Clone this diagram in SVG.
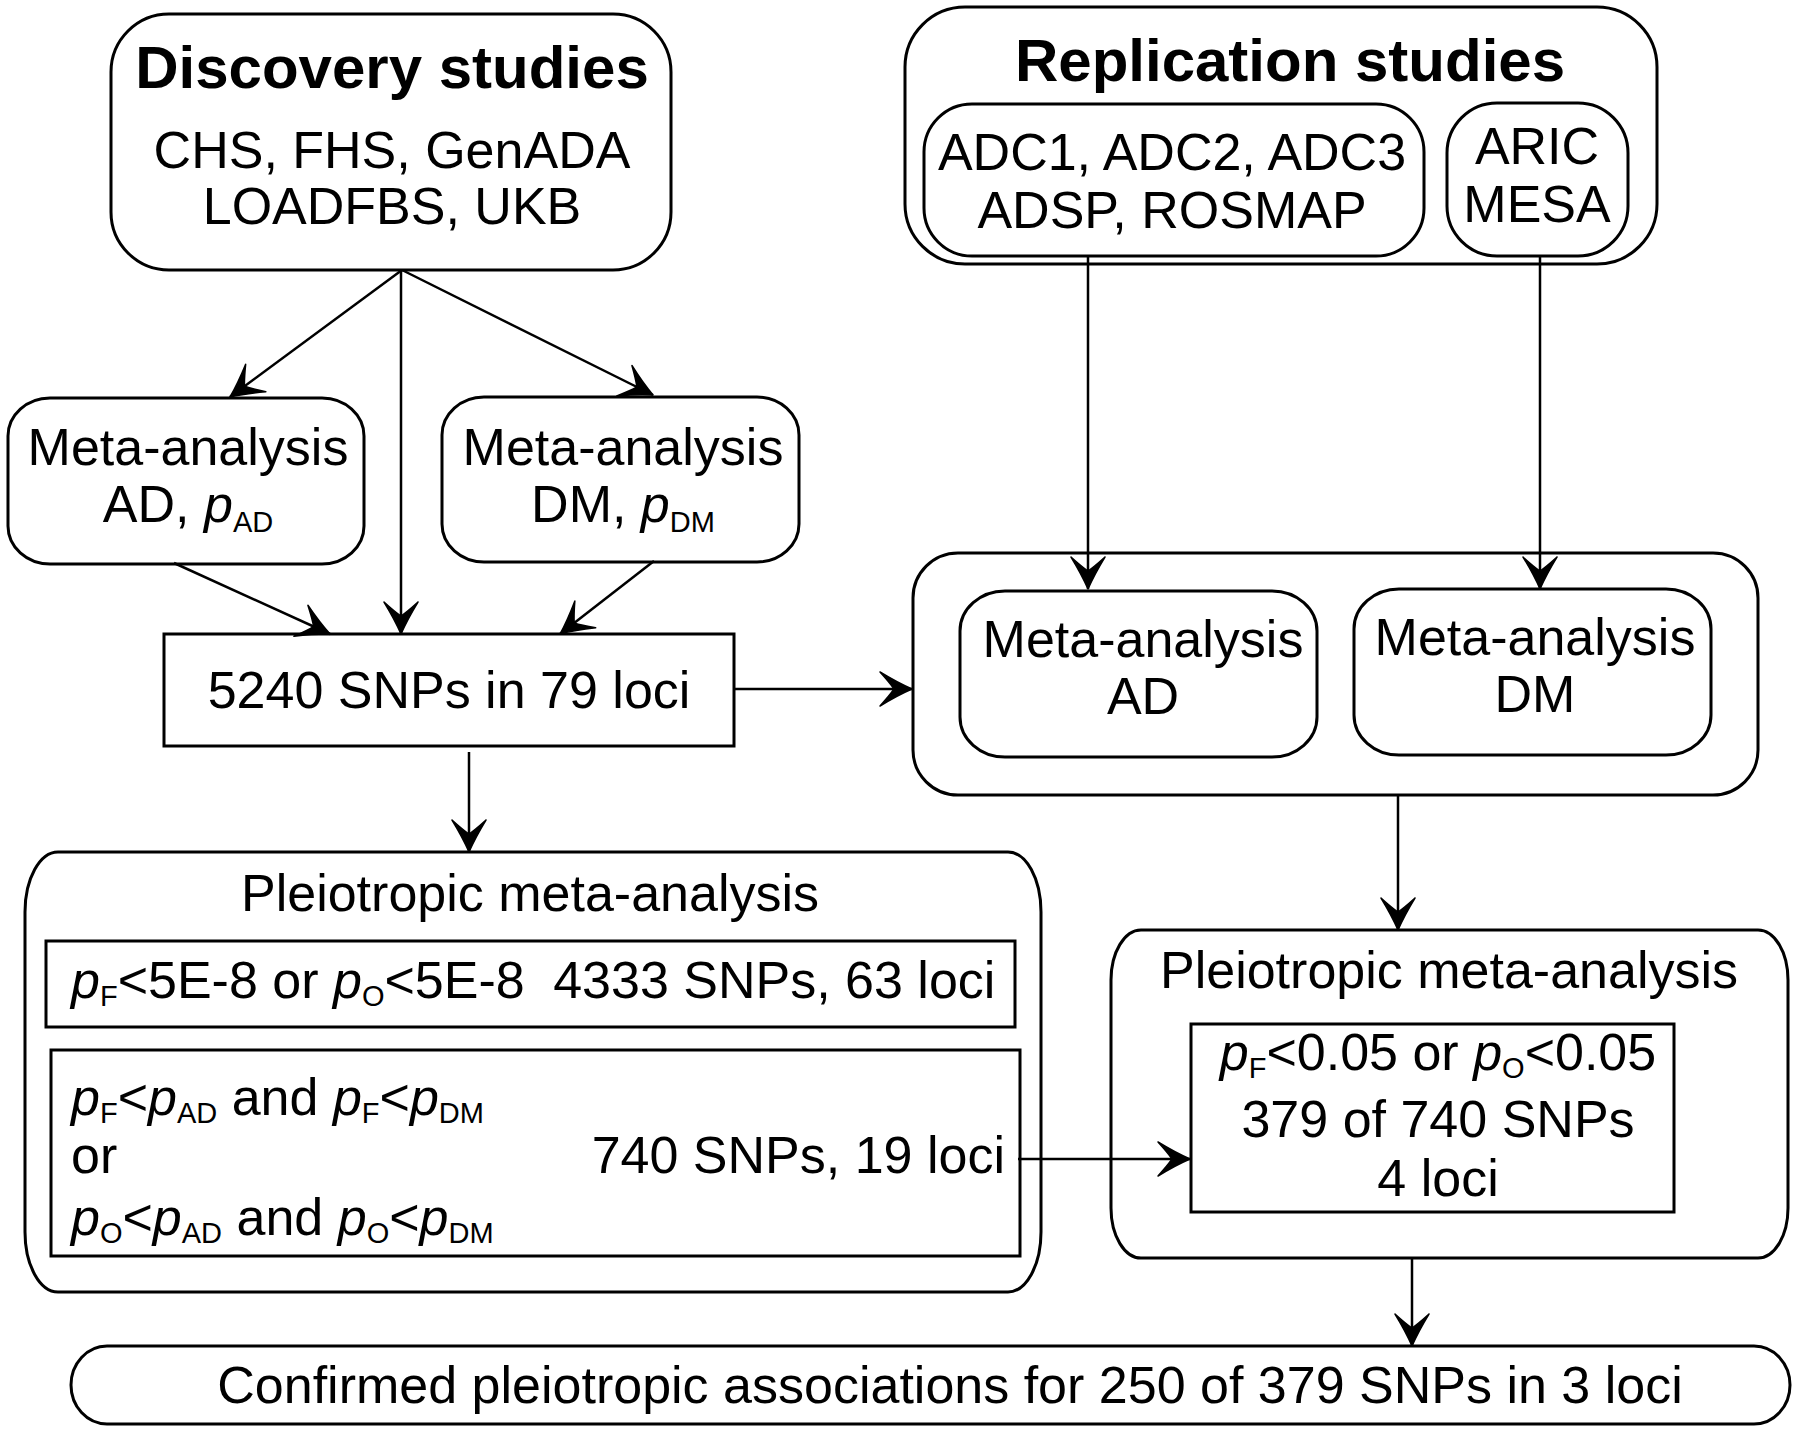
<svg xmlns="http://www.w3.org/2000/svg" width="1800" height="1429" viewBox="0 0 1800 1429">
<style>
.box{fill:#fff;stroke:#000;stroke-width:3}
.ln{fill:none;stroke:#000;stroke-width:2.5;marker-end:url(#ah)}
text{font-family:"Liberation Sans",Arial,sans-serif;font-size:52px;fill:#000}
.b{font-weight:bold;font-size:60px}
.m{text-anchor:middle}
.e{text-anchor:end}
.i{font-style:italic}
.s{font-size:29px}
</style>
<defs>
<marker id="ah" viewBox="-40 -20 40 40" refX="0" refY="0" markerWidth="40" markerHeight="40" markerUnits="userSpaceOnUse" orient="auto" overflow="visible">
<path d="M0,0 Q-14,-6 -32,-17 Q-22,-6 -18,0 Q-22,6 -32,17 Q-14,6 0,0 Z" fill="#000" stroke="#000" stroke-width="1.5" stroke-linejoin="round"/>
</marker>
</defs>
<rect width="1800" height="1429" fill="#fff"/>

<g id="discovery">
<rect class="box" x="111" y="14" width="560" height="256" rx="58" ry="58"/>
<text class="b m" x="392" y="88">Discovery studies</text>
<text class="m" x="392" y="168">CHS, FHS, GenADA</text>
<text class="m" x="392" y="224">LOADFBS, UKB</text>
</g>

<g id="replication">
<rect class="box" x="905" y="7" width="752" height="257" rx="60" ry="60"/>
<text class="b m" x="1290" y="81">Replication studies</text>
</g>
<g id="rep-ad">
<rect class="box" x="924" y="104" width="500" height="152" rx="48" ry="48"/>
<text class="m" x="1172" y="170">ADC1, ADC2, ADC3</text>
<text class="m" x="1172" y="228">ADSP, ROSMAP</text>
</g>
<g id="rep-dm">
<rect class="box" x="1447" y="103" width="181" height="153" rx="50" ry="50"/>
<text class="m" x="1537" y="164">ARIC</text>
<text class="m" x="1537" y="222">MESA</text>
</g>

<g id="meta-ad-disc">
<rect class="box" x="8" y="398" width="356" height="166" rx="42" ry="38"/>
<text class="m" x="188" y="465">Meta-analysis</text>
<text class="m" x="188" y="522">AD, <tspan class="i">p</tspan><tspan class="s" dy="10">AD</tspan></text>
</g>
<g id="meta-dm-disc">
<rect class="box" x="442" y="397" width="357" height="165" rx="42" ry="38"/>
<text class="m" x="623" y="465">Meta-analysis</text>
<text class="m" x="623" y="522">DM, <tspan class="i">p</tspan><tspan class="s" dy="10">DM</tspan></text>
</g>

<g id="snps5240">
<rect class="box" x="164" y="634" width="570" height="112"/>
<text class="m" x="449" y="708">5240 SNPs in 79 loci</text>
</g>

<g id="meta-rep">
<rect class="box" x="913" y="553" width="845" height="242" rx="45" ry="45"/>
</g>
<g id="meta-ad-rep">
<rect class="box" x="960" y="591" width="357" height="166" rx="45" ry="40"/>
<text class="m" x="1143" y="657">Meta-analysis</text>
<text class="m" x="1143" y="714">AD</text>
</g>
<g id="meta-dm-rep">
<rect class="box" x="1354" y="589" width="357" height="166" rx="45" ry="40"/>
<text class="m" x="1535" y="655">Meta-analysis</text>
<text class="m" x="1535" y="712">DM</text>
</g>

<g id="pleio-disc">
<rect class="box" x="25" y="852" width="1016" height="440" rx="33" ry="60"/>
<text class="m" x="530" y="911">Pleiotropic meta-analysis</text>
</g>
<g id="pleio-disc-gw">
<rect class="box" x="46" y="941" width="969" height="86"/>
<text x="71" y="998"><tspan class="i">p</tspan><tspan class="s" dy="8">F</tspan><tspan dy="-8">&lt;5E-8 or </tspan><tspan class="i">p</tspan><tspan class="s" dy="8">O</tspan><tspan dy="-8">&lt;5E-8</tspan><tspan dx="14"> 4333 SNPs, 63 loci</tspan></text>
</g>
<g id="pleio-disc-cond">
<rect class="box" x="51" y="1050" width="969" height="206"/>
<text x="71" y="1115"><tspan class="i">p</tspan><tspan class="s" dy="8">F</tspan><tspan dy="-8">&lt;</tspan><tspan class="i">p</tspan><tspan class="s" dy="8">AD</tspan><tspan dy="-8"> and </tspan><tspan class="i">p</tspan><tspan class="s" dy="8">F</tspan><tspan dy="-8">&lt;</tspan><tspan class="i">p</tspan><tspan class="s" dy="8">DM</tspan></text>
<text x="71" y="1173">or</text>
<text x="71" y="1235"><tspan class="i">p</tspan><tspan class="s" dy="8">O</tspan><tspan dy="-8">&lt;</tspan><tspan class="i">p</tspan><tspan class="s" dy="8">AD</tspan><tspan dy="-8"> and </tspan><tspan class="i">p</tspan><tspan class="s" dy="8">O</tspan><tspan dy="-8">&lt;</tspan><tspan class="i">p</tspan><tspan class="s" dy="8">DM</tspan></text>
<text class="e" x="1005" y="1173">740 SNPs, 19 loci</text>
</g>

<g id="pleio-rep">
<rect class="box" x="1111" y="930" width="677" height="328" rx="30" ry="50"/>
<text class="m" x="1449" y="988">Pleiotropic meta-analysis</text>
</g>
<g id="pleio-rep-res">
<rect class="box" x="1191" y="1024" width="483" height="188"/>
<text class="m" x="1438" y="1070"><tspan class="i">p</tspan><tspan class="s" dy="8">F</tspan><tspan dy="-8">&lt;0.05 or </tspan><tspan class="i">p</tspan><tspan class="s" dy="8">O</tspan><tspan dy="-8">&lt;0.05</tspan></text>
<text class="m" x="1438" y="1137">379 of 740 SNPs</text>
<text class="m" x="1438" y="1196">4 loci</text>
</g>

<g id="confirmed">
<rect class="box" x="71" y="1346" width="1719" height="78" rx="36" ry="39"/>
<text class="m" x="950" y="1403">Confirmed pleiotropic associations for 250 of 379 SNPs in 3 loci</text>
</g>

<g id="connectors">
<line class="ln" x1="402" y1="270" x2="230" y2="397"/>
<line class="ln" x1="402" y1="270" x2="653" y2="395"/>
<line class="ln" x1="401" y1="270" x2="401" y2="634"/>
<line class="ln" x1="174" y1="563" x2="330" y2="634"/>
<line class="ln" x1="654" y1="561" x2="560" y2="634"/>
<line class="ln" x1="1088" y1="256" x2="1088" y2="589"/>
<line class="ln" x1="1540" y1="256" x2="1540" y2="589"/>
<line class="ln" x1="734" y1="689" x2="912" y2="689"/>
<line class="ln" x1="469" y1="752" x2="469" y2="852"/>
<line class="ln" x1="1398" y1="795" x2="1398" y2="930"/>
<line class="ln" x1="1018" y1="1159" x2="1190" y2="1159"/>
<line class="ln" x1="1412" y1="1258" x2="1412" y2="1346"/>
</g>
</svg>
